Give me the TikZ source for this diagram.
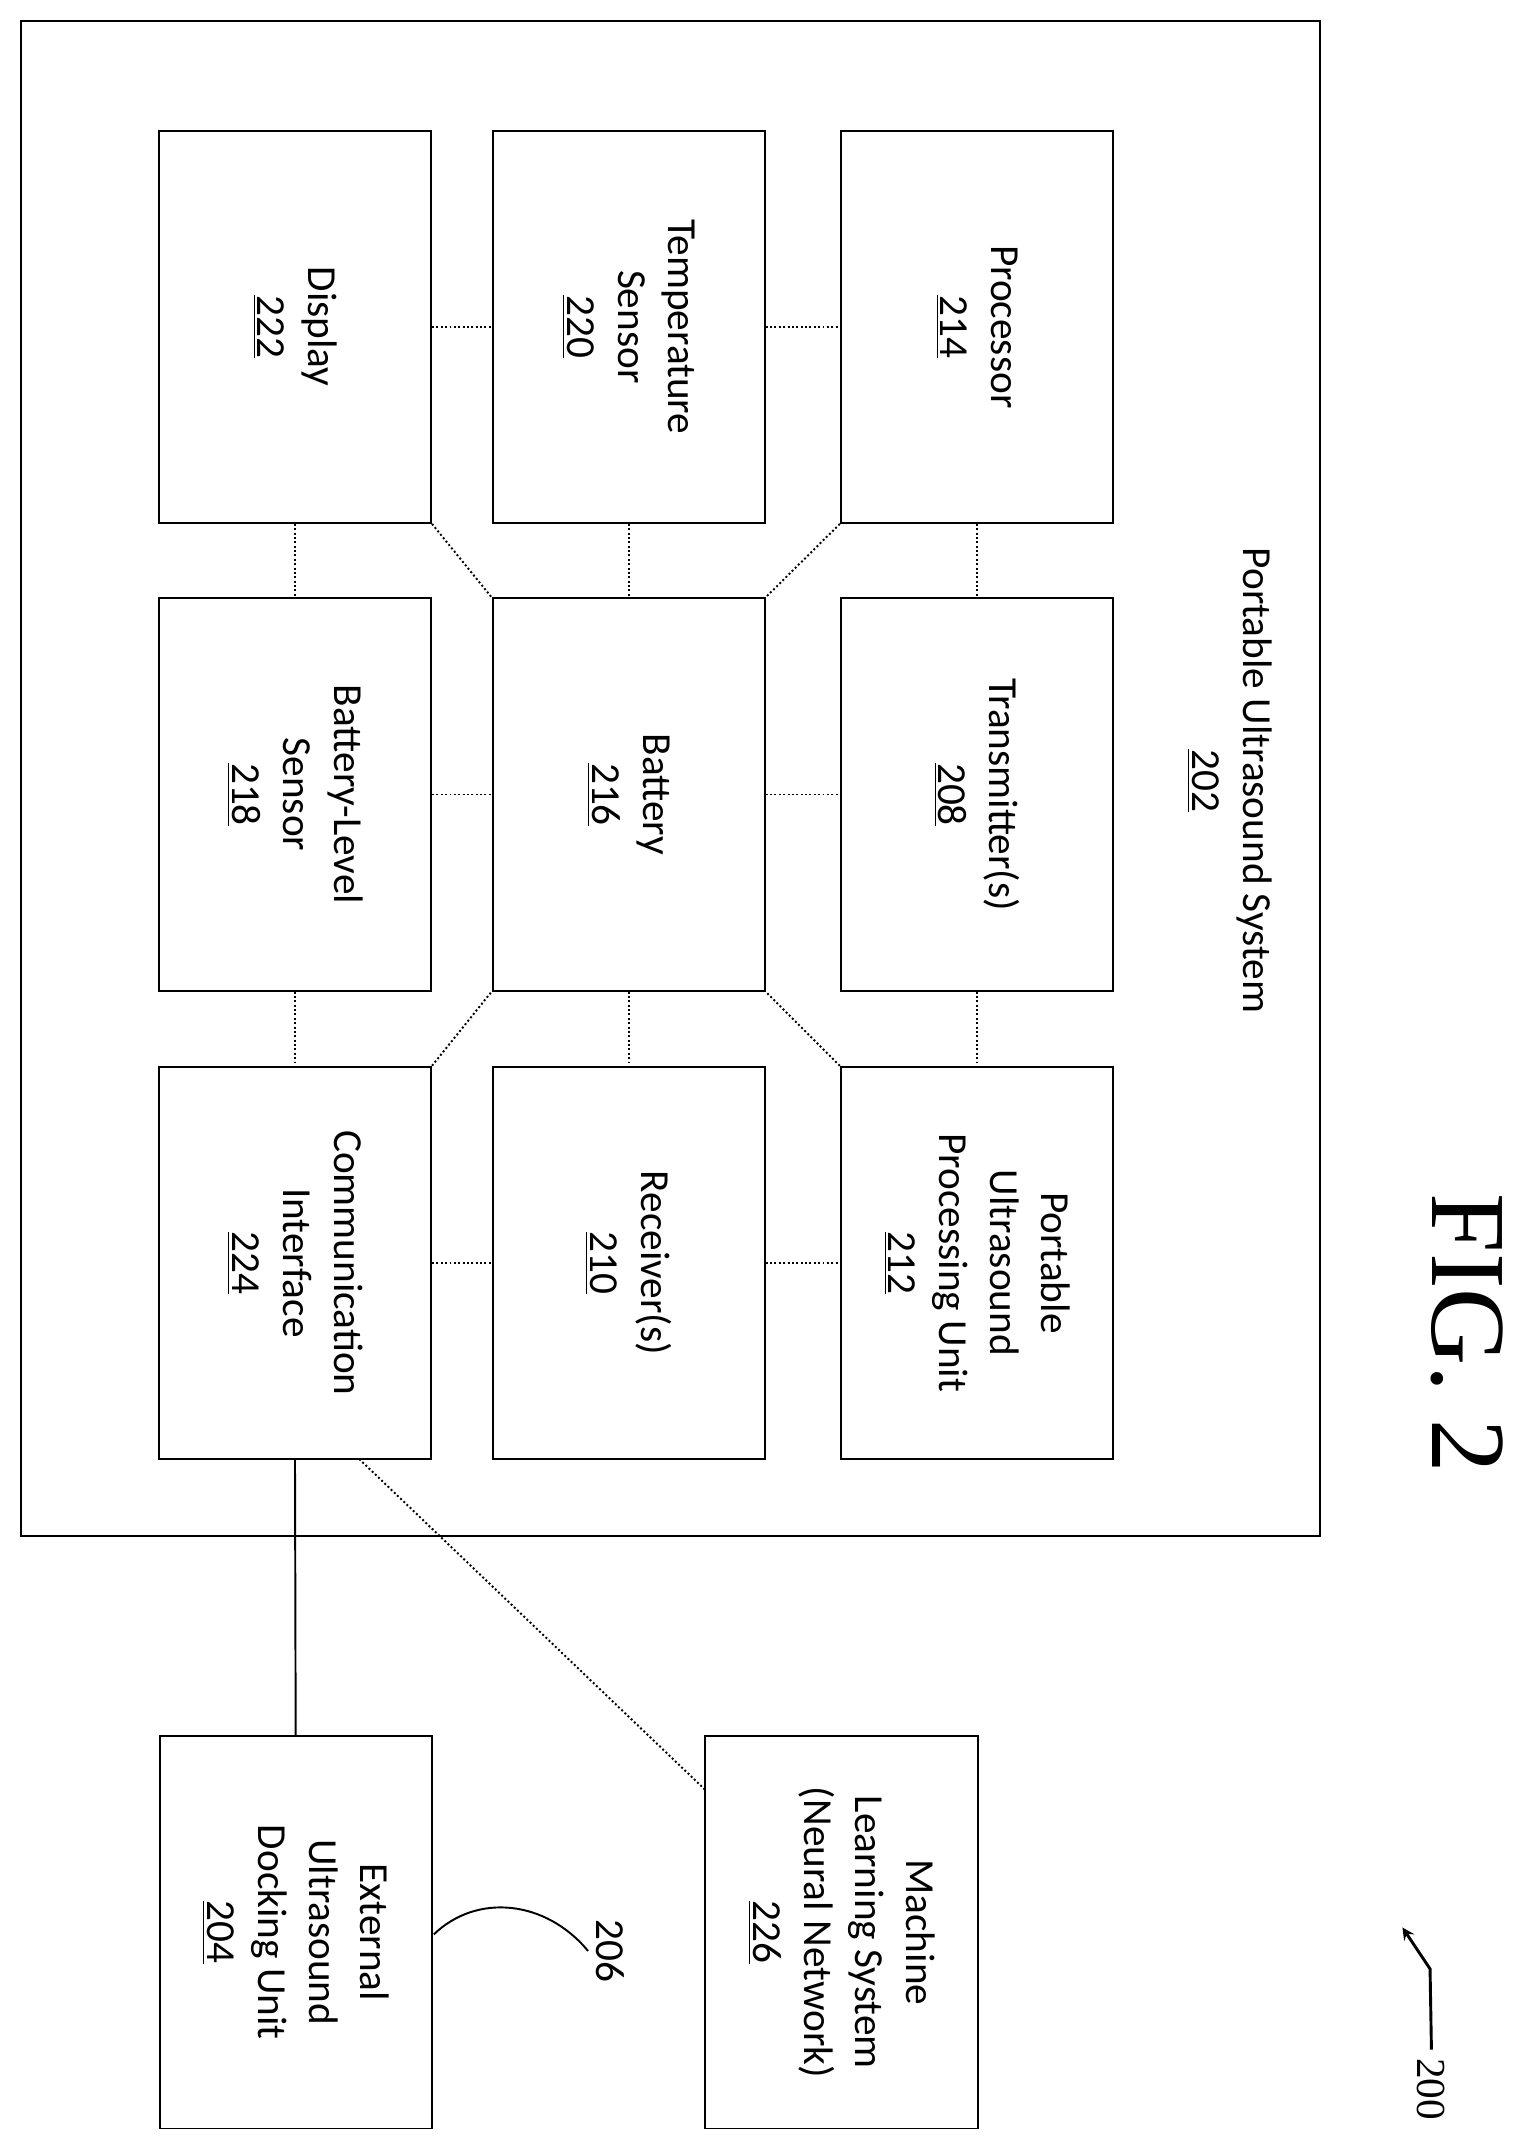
\documentclass[tikz,border=0pt]{standalone}
\usepackage{fontspec}
\setmainfont{Carlito}
\newfontfamily\figfont{Liberation Serif}
\begin{document}
\begin{tikzpicture}
[x=0.02cm,y=-0.02cm,
 blk/.style={draw,thick,rotate=-90,align=center,minimum width=5.68cm,minimum height=3.94cm,font=\fontsize{17}{21}\selectfont},
 dots/.style={densely dotted,thick}]
\useasboundingbox (0,0) rectangle (1100,1551);
\draw[thick] (15,15) rectangle (955,1112);
\node[rotate=-90,align=center,font=\fontsize{17}{21}\selectfont] (sys) at (890,565) {Portable Ultrasound System\\\underline{202}};

\node[blk] (disp) at (213.5,236.5) {Display\\\underline{222}};
\node[blk] (temp) at (455,236.5) {Temperature\\Sensor\\\underline{220}};
\node[blk] (proc) at (707,236.5) {Processor\\\underline{214}};

\node[blk] (bls) at (213.5,575) {Battery-Level\\Sensor\\\underline{218}};
\node[blk] (batt) at (455,575) {Battery\\\underline{216}};
\node[blk] (trans) at (707,575) {Transmitter(s)\\\underline{208}};

\node[blk] (comm) at (213.5,914) {Communication\\Interface\\\underline{224}};
\node[blk] (recv) at (455,914) {Receiver(s)\\\underline{210}};
\node[blk] (pupu) at (707,914) {Portable\\Ultrasound\\Processing Unit\\\underline{212}};

\node[blk] (ext) at (214,1398.5) {External\\Ultrasound\\Docking Unit\\\underline{204}};
\node[blk] (ml) at (609,1398.5) {Machine\\Learning System\\(Neural Network)\\\underline{226}};

\foreach \from/\to in {disp/temp,temp/proc,bls/batt,batt/trans,comm/recv,recv/pupu}
\draw[dots] (\from.north) -- (\to.south);
\foreach \from/\to in {disp/bls,temp/batt,proc/trans,bls/comm,batt/recv,trans/pupu}
\draw[dots] (\from.east) -- (\to.west);
\draw[dots] (disp.north east) -- (batt.south west);
\draw[dots] (proc.south east) -- (batt.north west);
\draw[dots] (comm.north west) -- (batt.south east);
\draw[dots] (pupu.south west) -- (batt.north east);

\draw[thick] (comm.east) -- (ext.west);
\coordinate (cml) at (260,1056);
\coordinate (mlc) at (510,1295);
\draw[dots] (cml) -- (mlc);

\node[rotate=-90,font=\fontsize{17}{21}\selectfont] (n206) at (442,1412) {206};
\coordinate (e206) at (314,1400);
\draw[thick] (n206.south) .. controls (395,1375) and (345,1370) .. (e206);

\node[rotate=-90,font=\figfont\fontsize{17}{21}\selectfont] (n200) at (1036,1512) {200};
\coordinate (b200) at (1035,1425);
\coordinate (a200) at (1015,1395);
\draw[very thick,-stealth] (n200.west) -- (b200) -- (a200);

\node[rotate=-90,font=\figfont\fontsize{44}{48}\selectfont] (fig) at (1062,965) {FIG. 2};
\end{tikzpicture}
\end{document}
